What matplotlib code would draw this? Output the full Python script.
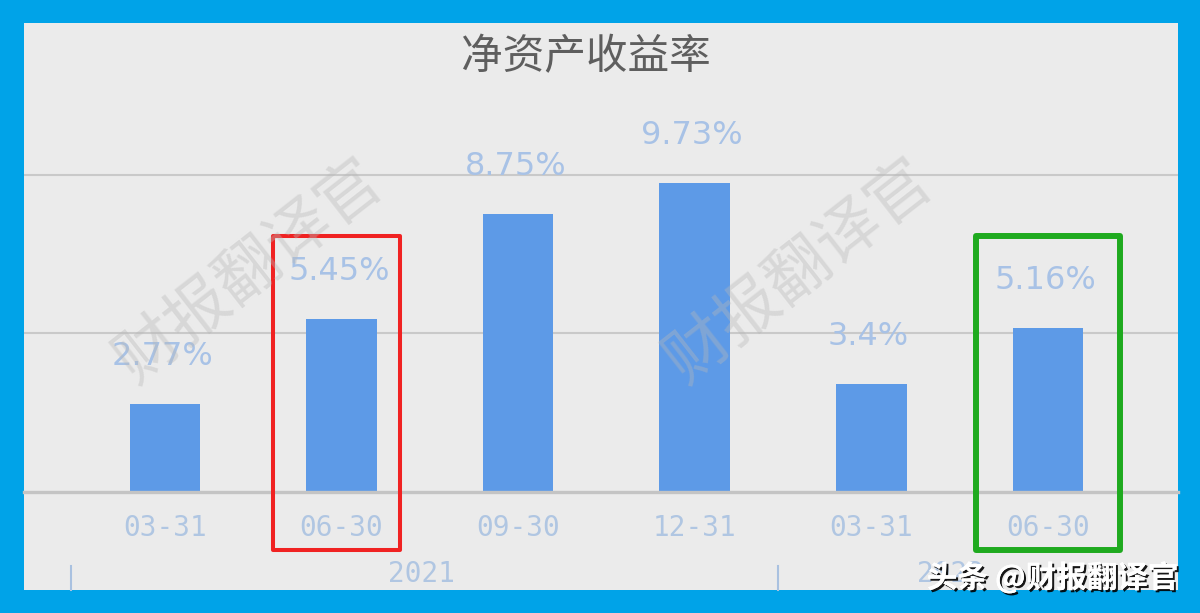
import matplotlib
import matplotlib.pyplot as plt
import matplotlib.patheffects as pe
from matplotlib.patches import Rectangle
from matplotlib.transforms import blended_transform_factory

matplotlib.use('Agg')

plt.rcParams['font.family'] = ['Noto Sans CJK SC', 'DejaVu Sans']

# data
dates = ['03-31', '06-30', '09-30', '12-31', '03-31', '06-30']
roe = [2.77, 5.45, 8.75, 9.73, 3.4, 5.16]
years = ['2021', '2022']
year_sizes = [4, 2]
highlights = [(1, '#F02222', 2.9, 0.36), (5, '#1FAA1F', 4.3, 0.41)]

W, H = 1200, 613
fig = plt.figure(figsize=(W / 100, H / 100), dpi=100, facecolor='#00A3E8')

# inner panel
fig.patches.append(Rectangle((24 / W, 1 - 590 / H), (1178 - 24) / W, (590 - 23) / H,
                             transform=fig.transFigure, facecolor='#EBEBEB',
                             edgecolor='none', zorder=-5))

base_px = 492
ax = fig.add_axes([24 / W, 1 - base_px / H, (1178 - 24) / W, (base_px - 23) / H])
ax.patch.set_alpha(0)
ax.set_xlim(-0.798, 5.736)
ax.set_ylim(0, (base_px - 23) / 31.75)

x = list(range(len(dates)))
for g in [5, 10]:
    ax.axhline(g, color='#C9C9C9', lw=1.5, zorder=1)
ax.axhline(0, color='#C4C4C4', lw=2.4, zorder=3, clip_on=False)

ax.bar(x, roe, width=0.4, color='#5D9AE7', zorder=2)

for xi, v in zip(x, roe):
    ax.annotate(f'{v:g}%', (xi, v), xytext=(-2, 34), textcoords='offset points',
                ha='center', va='center', fontsize=23, color='#A8C2E6',
                family='DejaVu Sans')

for s in ax.spines.values():
    s.set_visible(False)
ax.set_yticks([])
ax.set_xticks(x)
ax.set_xticklabels(dates, family='DejaVu Sans Mono', fontsize=20, color='#B0C6E2')
ax.tick_params(axis='x', length=0, pad=16)

# year group labels and separators
trans = blended_transform_factory(ax.transData, ax.transAxes)
start = 0
for yr, n in zip(years, year_sizes):
    ax.plot([start - 0.53, start - 0.53], [-0.158, -0.209], color='#A9C1E0', lw=1.5,
            transform=trans, clip_on=False)
    ax.text(start + (n - 1) / 2 - 0.05, -0.175, yr, transform=trans, ha='center', va='center',
            family='DejaVu Sans Mono', fontsize=20, color='#B0C6E2')
    start += n

# highlight boxes
for idx, col, lw, hw in highlights:
    ax.add_patch(Rectangle((idx - hw - 0.03 * (idx == 1), -1.83), 2 * hw, 9.9, fill=False,
                           edgecolor=col, lw=lw, joinstyle='round', clip_on=False, zorder=5))

fig.text(586 / W, 1 - 58 / H, '净资产收益率', ha='center', va='center',
         fontsize=30, color='#5E5E5E')

# watermarks
for wx in [250, 800]:
    fig.text(wx / W, 1 - 272 / H, '财报翻译官', ha='center', va='center', rotation=38,
             fontsize=46, color='#B8B8B8', alpha=0.38, fontweight='light', zorder=1)

fig.text(1178 / W, 1 - 578 / H, '头条 @财报翻译官', ha='right', va='center',
         fontsize=22, color='white', fontweight='bold', zorder=10,
         path_effects=[pe.withSimplePatchShadow(offset=(1.5, -1.5), shadow_rgbFace='black',
                                                alpha=0.9), pe.Normal()])

fig.savefig('out.png', dpi=100, facecolor=fig.get_facecolor())
